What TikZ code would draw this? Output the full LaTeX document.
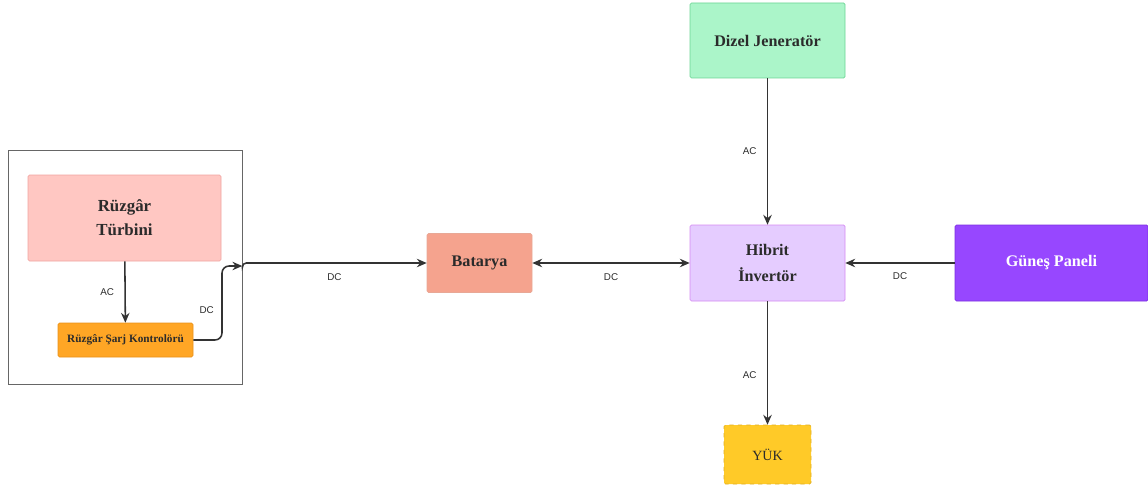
\documentclass[tikz,border=0pt]{standalone}
\usepackage{fontspec}
\setmainfont{Liberation Serif}
\setsansfont{Liberation Sans}
\usetikzlibrary{arrows.meta}

\definecolor{metin}{HTML}{2B2B2B}
\definecolor{cizgi}{HTML}{333333}
\definecolor{turbin}{HTML}{FFC7C2}
\definecolor{turbinK}{HTML}{F0A3A0}
\definecolor{sarj}{HTML}{FFA625}
\definecolor{sarjK}{HTML}{E8901A}
\definecolor{batarya}{HTML}{F5A38E}
\definecolor{bataryaK}{HTML}{E8A896}
\definecolor{hibrit}{HTML}{E5CCFF}
\definecolor{hibritK}{HTML}{D48AF2}
\definecolor{dizel}{HTML}{ABF5C9}
\definecolor{dizelK}{HTML}{6CD494}
\definecolor{gunes}{HTML}{9747FF}
\definecolor{gunesK}{HTML}{7B2FE0}
\definecolor{yuk}{HTML}{FFCA28}
\definecolor{yukK}{HTML}{E0AE20}

\begin{document}
\begin{tikzpicture}[x=0.025cm,y=-0.025cm]
\tikzstyle{lien}=[->,>={Stealth[length=7pt,width=6pt]},cizgi,line width=1.1pt]
\tikzset{kutu/.style 2 args={draw=#2,fill=#1,rounded corners=1pt,thin,
  text=metin,font=\bfseries\fontsize{11.5}{13}\selectfont,align=center,inner sep=0pt},
etiket/.style={font=\sffamily\fontsize{7}{8}\selectfont,text=metin}}
\useasboundingbox (0,0) rectangle (1148,485);

\node[draw=gray!80!black,thin,minimum width=234*0.025cm,minimum height=234*0.025cm] (F) at (125,267){};
\node[kutu={turbin}{turbinK},minimum width=193*0.025cm,minimum height=86*0.025cm,font=\bfseries\fontsize{12}{13}\selectfont] (T) at (124.5,218){Rüzgâr\\[4pt]Türbini};
\node[kutu={sarj}{sarjK},minimum width=135*0.025cm,minimum height=34*0.025cm,font=\bfseries\fontsize{8}{9}\selectfont] (K) at (125.5,340){Rüzgâr Şarj Kontrolörü};
\node[kutu={batarya}{bataryaK},minimum width=105*0.025cm,minimum height=59*0.025cm] (B) at (479.5,263){Batarya};
\node[kutu={hibrit}{hibritK},minimum width=155*0.025cm,minimum height=76*0.025cm] (H) at (767.5,263){Hibrit\\[5pt]İnvertör};
\node[kutu={dizel}{dizelK},minimum width=155*0.025cm,minimum height=75*0.025cm] (D) at (767.5,40.5){Dizel Jeneratör};
\node[kutu={gunes}{gunesK},minimum width=193*0.025cm,minimum height=76*0.025cm,text=white] (G) at (1051.5,263){Güneş Paneli};
\node[kutu={yuk}{yukK},dashed,minimum width=87*0.025cm,minimum height=59*0.025cm,font=\fontsize{10}{12}\selectfont] (Y) at (767.5,454.5){YÜK};

\coordinate (F1) at (F.east |- 0,266);

\draw[lien] (T) -- node[etiket,left=4pt]{AC} (K);
\draw[lien,rounded corners=5pt] (K) -- (222,340) -- node[etiket,left=2pt,pos=0.4]{DC} (222,266) -- (F1);
\draw[lien,rounded corners=3pt] (F1) -- (242,263) -- node[etiket,below=4pt]{DC} (B);
\draw[lien,<->] (B) -- node[etiket,below=4pt]{DC} (H);
\draw[lien] (D) -- node[etiket,left=4pt]{AC} (H);
\draw[lien] (G) -- node[etiket,below=3pt]{DC} (H);
\draw[lien] (H) -- node[etiket,left=4pt,pos=0.6]{AC} (Y);
\end{tikzpicture}
\end{document}
